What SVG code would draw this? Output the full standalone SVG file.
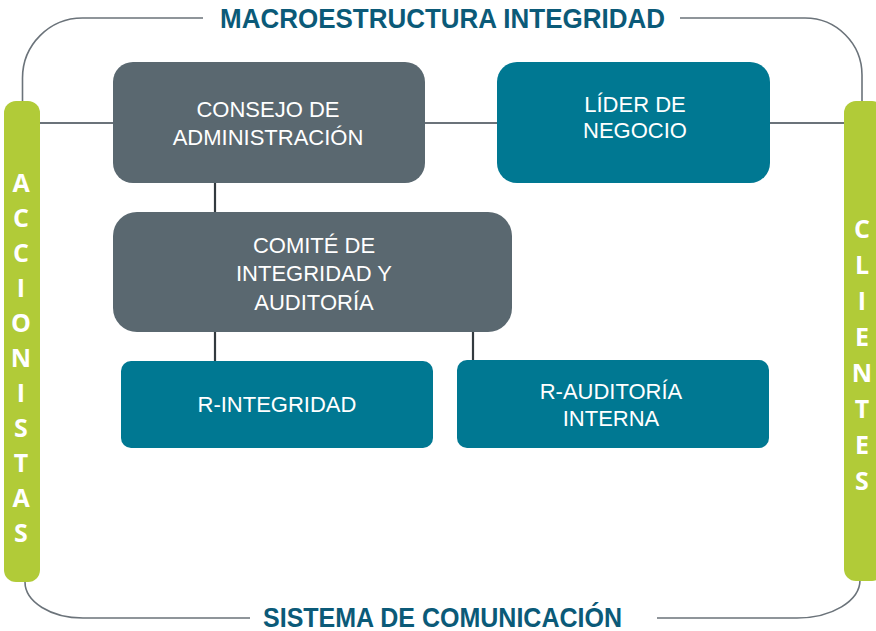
<svg xmlns="http://www.w3.org/2000/svg" width="876" height="631" viewBox="0 0 876 631">
<style>
.frame{fill:none;stroke:#6b737a;stroke-width:1.6}
.link{fill:none;stroke:#6b737a;stroke-width:2}
.tree{fill:none;stroke:#333a3f;stroke-width:2.2}
.bar{fill:#b1cb38}
.grey{fill:#5a6870}
.teal{fill:#007892}
.lbl{font-family:"Liberation Sans",Arial,sans-serif;font-size:22px;fill:#ffffff;text-anchor:middle}
.title{font-family:"Liberation Sans",Arial,sans-serif;font-weight:bold;font-size:28px;fill:#0b5a78}
.vert{font-family:"Open Sans","DejaVu Sans",sans-serif;font-weight:bold;font-size:25px;fill:#ffffff;text-anchor:middle}
</style>
<rect width="876" height="631" fill="#ffffff"/>
<g id="frame">
<path class="frame" d="M22.5,101 V78 A60,60 0 0 1 82.5,18 H203"/>
<path class="frame" d="M680,18 H805 A57,57 0 0 1 862,75 V101"/>
<path class="frame" d="M25,582 A58,36 0 0 0 83,618 H250"/>
<path class="frame" d="M657,618 H797 A63,38 0 0 0 860,580"/>
</g>
<g id="titles">
<text class="title" x="220" y="28" textLength="445" lengthAdjust="spacingAndGlyphs">MACROESTRUCTURA  INTEGRIDAD</text>
<text class="title" x="263" y="627" textLength="359" lengthAdjust="spacingAndGlyphs">SISTEMA DE COMUNICACIÓN</text>
</g>
<g id="connectors">
<line class="link" x1="40" y1="123" x2="113" y2="123"/>
<line class="link" x1="425" y1="123" x2="497" y2="123"/>
<line class="link" x1="770" y1="123" x2="844" y2="123"/>
<line class="tree" x1="215" y1="183" x2="215" y2="212"/>
<line class="tree" x1="215" y1="332" x2="215" y2="361"/>
<line class="tree" x1="473" y1="332" x2="473" y2="361"/>
</g>
<g id="accionistas">
<rect class="bar" x="4" y="101" width="36" height="481" rx="12"/>
<text class="vert" x="21" y="192">A</text>
<text class="vert" x="21" y="227">C</text>
<text class="vert" x="21" y="262">C</text>
<text class="vert" x="21" y="297">I</text>
<text class="vert" x="21" y="332">O</text>
<text class="vert" x="21" y="367">N</text>
<text class="vert" x="21" y="402">I</text>
<text class="vert" x="21" y="437">S</text>
<text class="vert" x="21" y="472">T</text>
<text class="vert" x="21" y="507">A</text>
<text class="vert" x="21" y="542">S</text>
</g>
<g id="clientes">
<rect class="bar" x="844" y="101" width="40" height="480" rx="12"/>
<text class="vert" x="862" y="238">C</text>
<text class="vert" x="862" y="274">L</text>
<text class="vert" x="862" y="310">I</text>
<text class="vert" x="862" y="346">E</text>
<text class="vert" x="862" y="382">N</text>
<text class="vert" x="862" y="418">T</text>
<text class="vert" x="862" y="454">E</text>
<text class="vert" x="862" y="490">S</text>
</g>
<g id="consejo">
<rect class="grey" x="113" y="62" width="312" height="121" rx="20"/>
<text class="lbl" x="268" y="117">CONSEJO DE</text>
<text class="lbl" x="268" y="145">ADMINISTRACIÓN</text>
</g>
<g id="lider">
<rect class="teal" x="497" y="62" width="273" height="121" rx="20"/>
<text class="lbl" x="635" y="112">LÍDER DE</text>
<text class="lbl" x="635" y="138">NEGOCIO</text>
</g>
<g id="comite">
<rect class="grey" x="113" y="212" width="399" height="120" rx="24"/>
<text class="lbl" x="314" y="253">COMITÉ DE</text>
<text class="lbl" x="314" y="281">INTEGRIDAD Y</text>
<text class="lbl" x="314" y="310">AUDITORÍA</text>
</g>
<g id="r-integridad">
<rect class="teal" x="121" y="361" width="312" height="87" rx="10"/>
<text class="lbl" x="277" y="412">R-INTEGRIDAD</text>
</g>
<g id="r-auditoria">
<rect class="teal" x="457" y="360" width="312" height="88" rx="10"/>
<text class="lbl" x="611" y="399">R-AUDITORÍA</text>
<text class="lbl" x="611" y="426">INTERNA</text>
</g>
</svg>
